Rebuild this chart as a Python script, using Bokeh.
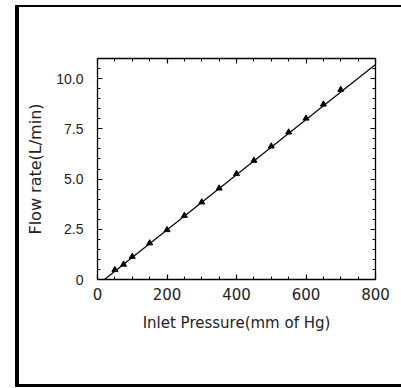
from bokeh.plotting import figure
from bokeh.models import LinearAxis, Range1d, FixedTicker, CustomJSTickFormatter
from bokeh.embed import file_html
from bokeh.resources import INLINE

# Data
pressure = [50, 75, 100, 150, 200, 250, 300, 350, 400, 450, 500, 550, 600, 650, 700]
flow = [0.48, 0.75, 1.14, 1.81, 2.47, 3.18, 3.85, 4.54, 5.26, 5.92, 6.63, 7.33, 8.02, 8.72, 9.45]
fit_x = [20, 800]
fit_y = [0.0, 10.7]
x_ticks = [0, 200, 400, 600, 800]
y_ticks = [0, 2.5, 5.0, 7.5, 10.0]
y_tick_labels = ["0", "2.5", "5.0", "7.5", "10.0"]

x_label = "Inlet Pressure(mm of Hg)"
y_label = "Flow rate(L/min)"

p = figure(
    output_backend="svg", toolbar_location=None,
    frame_width=278, frame_height=221,
    min_border_left=78, min_border_right=26, min_border_top=51, min_border_bottom=105,
    x_range=Range1d(0, 800), y_range=Range1d(0, 11),
    x_axis_label=x_label, y_axis_label=y_label,
)
p.styles = {
    "position": "absolute",
    "left": "15px",
    "top": "5px",
    "border-left": "4px solid black",
    "border-top": "2px solid black",
    "border-bottom": "3px solid black",
}
p.grid.visible = False
p.outline_line_color = None
p.background_fill_color = "white"
p.border_fill_color = "white"

p.line(fit_x, fit_y, line_color="black", line_width=1.2)
p.scatter(pressure, flow, marker="triangle", size=6, fill_color="black", line_color="black")

def style_axis(ax, ticks, minor, labels=True, font="DejaVu Sans", size="15px"):
    ax.ticker = FixedTicker(ticks=ticks, minor_ticks=minor)
    ax.axis_line_color = "black"
    ax.axis_line_width = 1.3
    ax.major_tick_in = 5
    ax.major_tick_out = 0
    ax.minor_tick_in = 3
    ax.minor_tick_out = 0
    ax.major_tick_line_color = "black"
    ax.minor_tick_line_color = "black"
    ax.major_tick_line_width = 1.2
    ax.minor_tick_line_width = 1
    if labels:
        ax.major_label_text_font = font
        ax.major_label_text_font_size = size
        ax.major_label_text_color = "#222222"
    else:
        ax.formatter = CustomJSTickFormatter(code="return '';")
        ax.major_label_standoff = 0

x_minor = [v for v in range(0, 801, 50)]
y_minor = [v * 0.5 for v in range(0, 23)]

xa = p.xaxis[0]
style_axis(xa, x_ticks, x_minor, font="DejaVu Sans", size="15px")
xa.major_label_standoff = 8
xa.axis_label_standoff = 11
xa.axis_label_text_font = "DejaVu Sans"
xa.axis_label_text_font_size = "15px"
xa.axis_label_text_font_style = "normal"
xa.axis_label_text_color = "#222222"

ya = p.yaxis[0]
style_axis(ya, y_ticks, y_minor, font="Liberation Sans", size="14px")
ya.major_label_overrides = {t: s for t, s in zip(y_ticks, y_tick_labels)}
ya.major_label_standoff = 14
ya.axis_label_standoff = 8
ya.axis_label_text_font = "DejaVu Sans"
ya.axis_label_text_font_size = "16px"
ya.axis_label_text_font_style = "normal"
ya.axis_label_text_color = "#222222"

top = LinearAxis()
style_axis(top, x_ticks, x_minor, labels=False)
p.add_layout(top, "above")
right = LinearAxis()
style_axis(right, y_ticks, y_minor, labels=False)
p.add_layout(right, "right")

open("out.html", "w").write(file_html(p, INLINE))
